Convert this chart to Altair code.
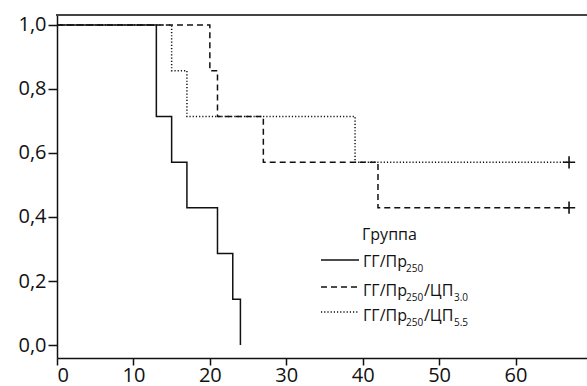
import altair as alt
import pandas as pd

# Kaplan-Meier step data
times_a = [0, 13, 15, 17, 21, 23, 24]
surv_a = [1.0, 0.714, 0.571, 0.429, 0.286, 0.143, 0.0]
times_b = [0, 20, 21, 27, 42, 67]
surv_b = [1.0, 0.857, 0.714, 0.571, 0.429, 0.429]
times_c = [0, 15, 17, 39, 67]
surv_c = [1.0, 0.857, 0.714, 0.571, 0.571]
censor_t = [67, 67]
censor_s = [0.571, 0.429]

x_ticks = [0, 10, 20, 30, 40, 50, 60]
y_ticks = [0.0, 0.2, 0.4, 0.6, 0.8, 1.0]

W, H = 530, 343
FONT = "Open Sans"
INK = "#111111"

df_a = pd.DataFrame({"t": times_a, "s": surv_a})
df_b = pd.DataFrame({"t": times_b, "s": surv_b})
df_c = pd.DataFrame({"t": times_c, "s": surv_c})
df_cens = pd.DataFrame({"t": censor_t, "s": censor_s})

xenc = alt.X("t:Q", scale=alt.Scale(domain=[0, 69.35], nice=False, zero=False),
             axis=alt.Axis(values=x_ticks, title=None, grid=False, tickSize=7,
                           labelPadding=0, format="d"))
yenc = alt.Y("s:Q", scale=alt.Scale(domain=[-0.0406, 1.0312], nice=False, zero=False),
             axis=alt.Axis(values=y_ticks, title=None, grid=False, tickSize=9,
                           labelPadding=2,
                           labelExpr="replace(format(datum.value, '.1f'), '.', ',')"))

def km(df, dash):
    kw = dict(interpolate="step-after", color=INK, strokeWidth=1.5)
    if dash:
        kw["strokeDash"] = dash
    return alt.Chart(df).mark_line(**kw).encode(x=xenc, y=yenc)

line_c = km(df_c, [1.2, 2])
line_b = km(df_b, [6, 4])
line_a = km(df_a, None)

cens = alt.Chart(df_cens).mark_point(
    shape="M-1,0L1,0M0,-1L0,1", size=150, filled=False, strokeWidth=1.6,
    color=INK, opacity=1
).encode(x=xenc, y=yenc)

one = alt.Data(values=[{}])

top_rule = alt.Chart(one).mark_rule(color="#444444", strokeWidth=2.2).encode(
    x=alt.value(-1), x2=alt.value(W), y=alt.value(0))

def txt(s, x, y, size=16):
    return alt.Chart(one).mark_text(text=s, align="left", baseline="alphabetic",
                                    font=FONT, fontSize=size, color=INK).encode(
        x=alt.value(x), y=alt.value(y))

def lline(y, dash):
    kw = dict(color=INK, strokeWidth=1.3)
    if dash:
        kw["strokeDash"] = dash
    return alt.Chart(one).mark_rule(**kw).encode(
        x=alt.value(264), x2=alt.value(302), y=alt.value(y))

legend = [
    txt("Группа", 305, 225),
    lline(245, None),
    txt("ГГ/Пр", 306, 252), txt("250", 349, 257, 10),
    lline(272, [6, 4]),
    txt("ГГ/Пр", 306, 281), txt("250", 349, 286, 10),
    txt("/ЦП", 367, 281), txt("3.0", 397, 286, 10),
    lline(297, [1.2, 2]),
    txt("ГГ/Пр", 306, 306), txt("250", 349, 311, 10),
    txt("/ЦП", 367, 306), txt("5.5", 397, 311, 10),
]

chart = alt.layer(line_c, line_b, line_a, cens, top_rule, *legend).properties(
    width=W, height=H,
    autosize=alt.AutoSizeParams(type="none"),
    padding={"left": 57, "top": 15, "right": 0, "bottom": 28},
).configure_view(strokeWidth=0).configure_axis(
    domainColor=INK, domainWidth=1.5, tickColor=INK, tickWidth=1.5,
    labelFont=FONT, labelFontSize=20, labelColor=INK,
)

chart.save("out.html", embed_options={"renderer": "svg", "actions": False})
